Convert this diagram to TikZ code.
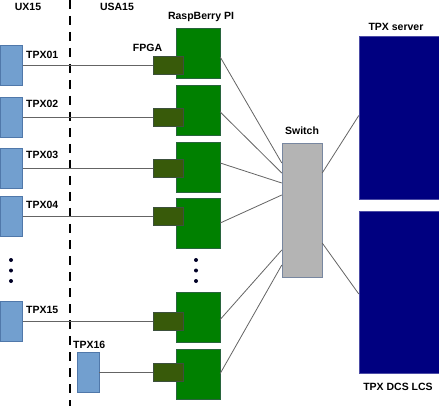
\documentclass[tikz,border=0pt]{standalone}
\usepackage{tikz}
\usepackage{xcolor}
\usepackage{fontspec}
\setmainfont{Liberation Sans}

\definecolor{tpxfill}{RGB}{114,159,207}
\definecolor{tpxline}{RGB}{80,120,170}
\definecolor{rpifill}{RGB}{0,128,0}
\definecolor{rpiline}{RGB}{40,100,60}
\definecolor{fpgafill}{RGB}{56,90,10}
\definecolor{fpgaline}{RGB}{60,80,60}
\definecolor{swfill}{RGB}{180,180,180}
\definecolor{swline}{RGB}{120,135,160}
\definecolor{srvfill}{RGB}{0,0,128}
\definecolor{wiregray}{RGB}{100,100,100}

\begin{document}
\begin{tikzpicture}[x=1pt,y=-1pt,
  tpx/.style={draw=tpxline,fill=tpxfill,minimum width=22pt,minimum height=40pt,inner sep=0},
  fpga/.style={draw=fpgaline,fill=fpgafill,minimum width=30pt,minimum height=18pt,inner sep=0},
  rpi/.style={draw=rpiline,fill=rpifill,minimum width=44pt,minimum height=50pt,inner sep=0},
  lbl/.style={font=\bfseries\fontsize{10.5}{12}\selectfont,inner sep=0},
  wire/.style={draw=wiregray,line width=0.8pt}]
\useasboundingbox (0,0) rectangle (439,406);

% UX15 / USA15 divider
\draw[line width=1.6pt,dash pattern=on 9pt off 7pt] (70,0) -- (70,406);
\node[lbl] (UX) at (28,7) {UX15};
\node[lbl] (USA) at (117,7) {USA15};

% Timepix detectors
\node[tpx] (T1) at (11.5,65) {};
\node[tpx] (T2) at (11.5,117) {};
\node[tpx] (T3) at (11.5,168) {};
\node[tpx] (T4) at (11.5,216) {};
\node[tpx] (T15) at (11.5,321) {};
\node[tpx] (T16) at (88,372) {};
\node[lbl,anchor=west] (L1) at (26,55) {TPX01};
\node[lbl,anchor=west] (L2) at (26,104) {TPX02};
\node[lbl,anchor=west] (L3) at (26,155) {TPX03};
\node[lbl,anchor=west] (L4) at (26,205) {TPX04};
\node[lbl,anchor=west] (L15) at (26,310) {TPX15};
\node[lbl,anchor=west] (L16) at (73,345) {TPX16};

% RaspBerry PI boards
\node[rpi] (R1) at (198,53) {};
\node[rpi] (R2) at (198,110) {};
\node[rpi] (R3) at (198,167) {};
\node[rpi] (R4) at (198,223) {};
\node[rpi] (R15) at (198,317.5) {};
\node[rpi] (R16) at (198,374.5) {};
\node[lbl] (RL) at (201,17) {RaspBerry PI};

% FPGAs
\node[fpga] (F1) at (168,65) {};
\node[fpga] (F2) at (168,117) {};
\node[fpga] (F3) at (168,168) {};
\node[fpga] (F4) at (168,216) {};
\node[fpga] (F15) at (168,321) {};
\node[fpga] (F16) at (168,372) {};
\node[lbl] (FL) at (147.5,48) {FPGA};

% dots
\fill[black!85!blue] (11,260) circle (2pt) (11,270.5) circle (2pt) (11,281) circle (2pt);
\fill[black!85!blue] (196,260) circle (2pt) (196,270.5) circle (2pt) (196,281) circle (2pt);

% switch and servers
\node[draw=swline,fill=swfill,minimum width=40pt,minimum height=134pt,inner sep=0] (Sw) at (302,210) {};
\node[lbl] (SwL) at (302,131) {Switch};
\node[draw=srvfill!70!white,fill=srvfill,minimum width=80pt,minimum height=163pt,inner sep=0] (Srv) at (399,117.5) {};
\node[draw=srvfill!70!white,fill=srvfill,minimum width=80pt,minimum height=162pt,inner sep=0] (DCS) at (399,292) {};
\node[lbl] (SrvL) at (396,27) {TPX server};
\node[lbl] (DCSL) at (398,387) {TPX DCS LCS};

% links
\draw[wire] (T1) -- (F1);
\draw[wire] (T2) -- (F2);
\draw[wire] (T3) -- (F3);
\draw[wire] (T4) -- (F4);
\draw[wire] (T15) -- (F15);
\draw[wire] (T16) -- (F16);

\draw[wire] ([yshift=-4pt]R1.east) -- ([yshift=47pt]Sw.west);
\draw[wire] ([yshift=-2pt]R2.east) -- ([yshift=37pt]Sw.west);
\draw[wire] ([yshift=4pt]R3.east) -- ([yshift=27pt]Sw.west);
\draw[wire] (R4.east) -- ([yshift=15pt]Sw.west);
\draw[wire] ([yshift=-2pt]R15.east) -- ([yshift=-40pt]Sw.west);
\draw[wire] ([yshift=1pt]R16.east) -- ([yshift=-55pt]Sw.west);

\draw[wire] ([yshift=37pt]Sw.east) -- ([yshift=2pt]Srv.west);
\draw[wire] ([yshift=-33pt]Sw.east) -- ([yshift=-2pt]DCS.west);

\end{tikzpicture}
\end{document}
